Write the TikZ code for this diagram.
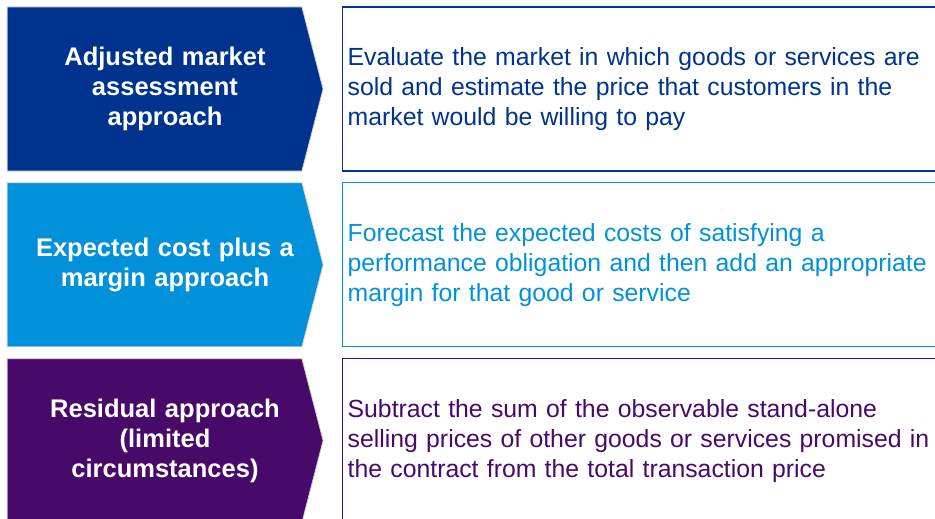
\documentclass[tikz,border=0pt]{standalone}
\usepackage{fontspec}
\setmainfont{Liberation Sans}
\usetikzlibrary{shapes.symbols}
\usetikzlibrary{positioning}
\definecolor{colorMarket}{HTML}{00338D}
\definecolor{colorCost}{HTML}{0091DA}
\definecolor{colorResidual}{HTML}{470A68}
\tikzset{
   approach/.style={signal,signal to=east,signal pointer angle=151,
     fill=#1,draw=gray!35,line width=0.8pt,inner sep=0pt,
     minimum width=316pt,minimum height=164pt},
   approachText/.style={text width=280pt,align=center,text=white,
     xshift=10.5pt,font=\bfseries\fontsize{25.5}{30}\selectfont},
   method/.style={rectangle,draw=#1,line width=1.3pt,text=#1,
     minimum height=164pt,text width=600pt,inner xsep=5.5pt,inner ysep=0pt,
     align=left,font=\fontsize{24.8}{30}\selectfont},
}

\begin{document}
\begin{tikzpicture}[x=1pt, y=-1pt]
  \clip (0,0) rectangle (935,519);

  \node[approach=colorMarket] (market) at (154.5, 89) {};
  \node[approach=colorCost, below=11pt of market] (cost) {};
  \node[approach=colorResidual, below=11pt of cost] (residual) {};

  \node[approachText] (marketLabel) at (market)
     {Adjusted market\\assessment\\approach};
  \node[approachText] (costLabel) at (cost)
     {Expected cost plus a\\margin approach};
  \node[approachText] (residualLabel) at (residual)
     {Residual approach\\(limited\\circumstances)};

  \node[method=colorMarket, right=18pt of market] (marketText)
     {Evaluate the market in which goods or services are\\
      sold and estimate the price that customers in the\\
      market would be willing to pay};
  \node[method=colorCost, right=18pt of cost] (costText)
     {Forecast the expected costs of satisfying a\\
      performance obligation and then add an appropriate\\
      margin for that good or service};
  \node[method=colorResidual, right=18pt of residual] (residualText)
     {Subtract the sum of the observable stand-alone\\
      selling prices of other goods or services promised in\\
      the contract from the total transaction price};
\end{tikzpicture}
\end{document}
